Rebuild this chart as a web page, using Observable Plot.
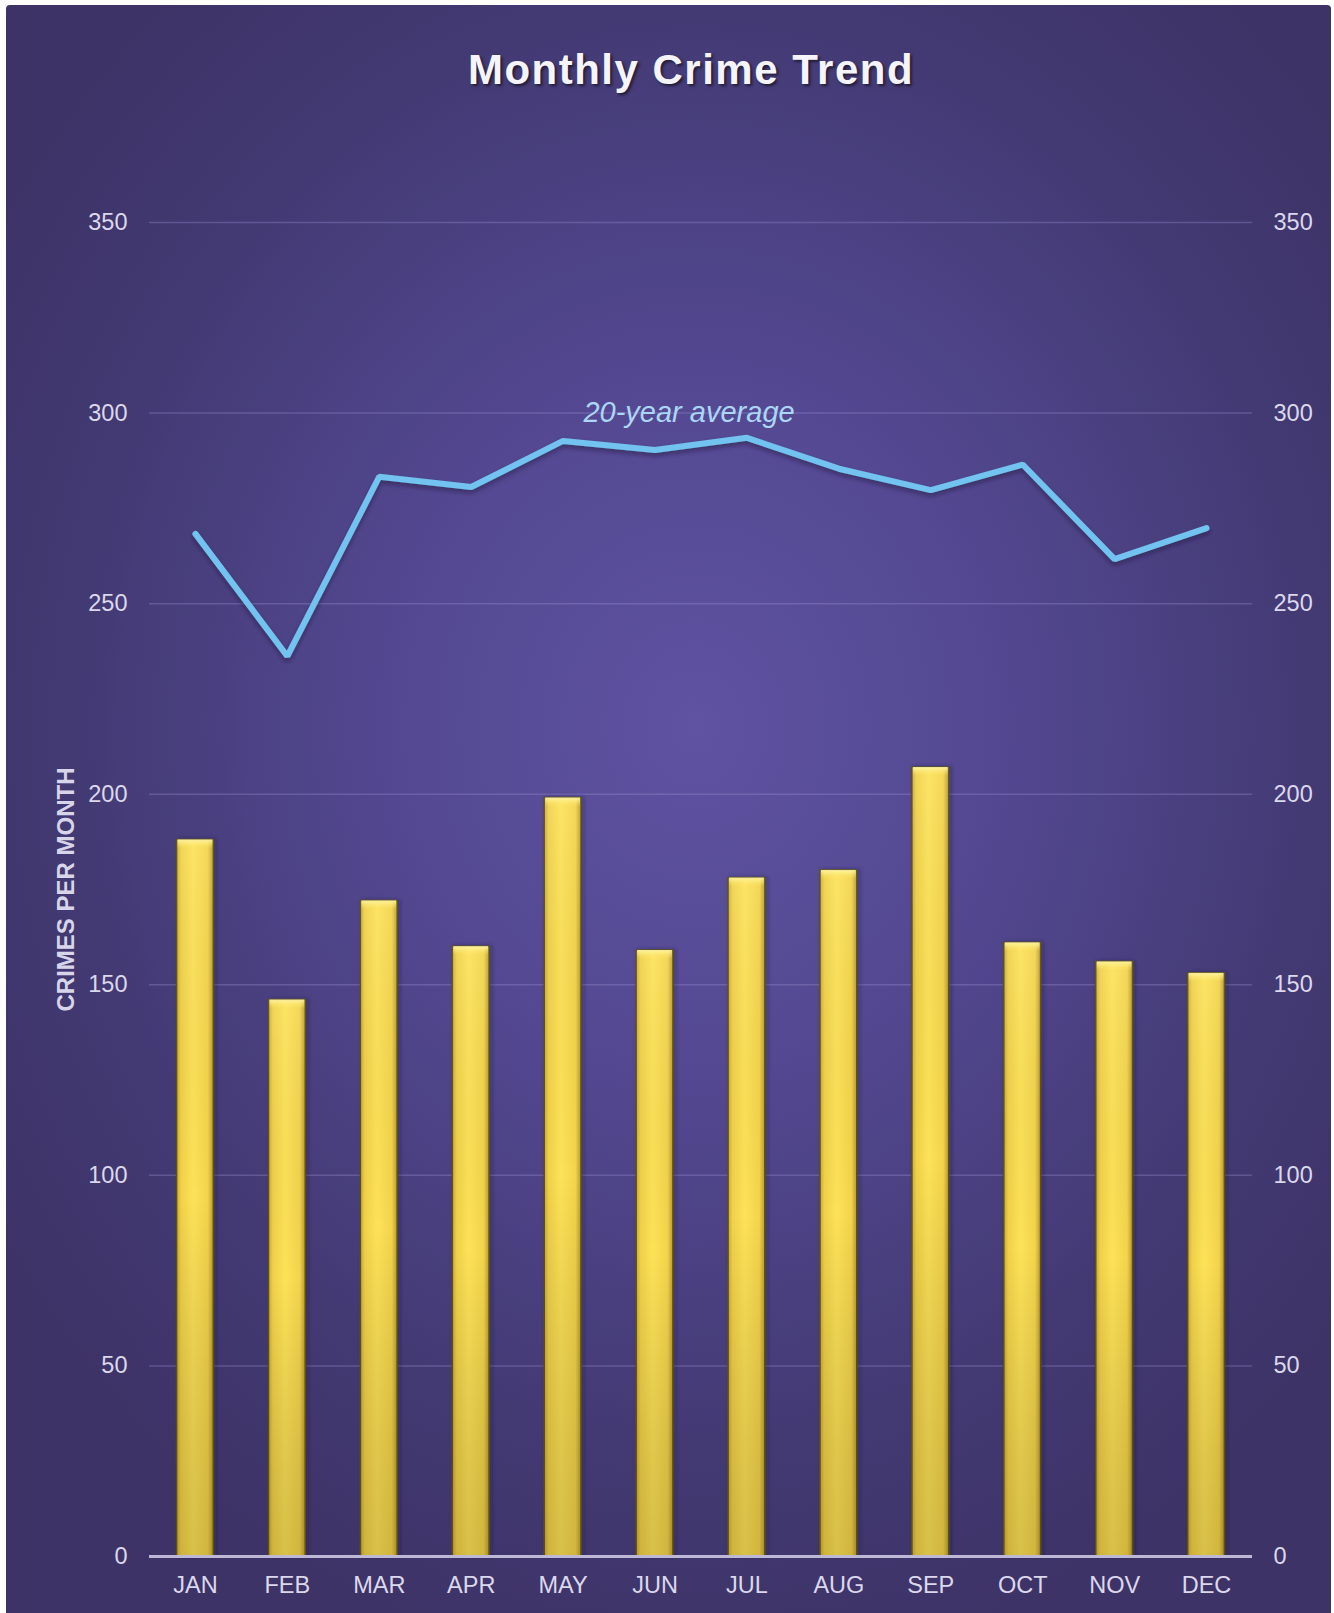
<!DOCTYPE html>
<html>
<head>
<meta charset="utf-8">
<script src="https://cdn.jsdelivr.net/npm/d3@7"></script>
<script src="https://cdn.jsdelivr.net/npm/@observablehq/plot@0.6"></script>
<style>
  html, body { margin: 0; padding: 0; background: #ffffff; }
  #wrap { position: relative; width: 1334px; height: 1613px; overflow: hidden; font-family: "Liberation Sans", Arial, sans-serif; }
  #bg { position: absolute; left: 6px; top: 5px; width: 1325px; height: 1640px; border-radius: 4px;
        background: radial-gradient(ellipse 62% 58% at 52% 44%, #5f53a2 0%, #52478f 40%, #433a74 75%, #3d3367 100%); }
  #title { position: absolute; left: 0; width: 1382px; top: 46px; text-align: center; font-size: 42px; font-weight: bold;
           letter-spacing: 1.5px; color: #f6f4fb; text-shadow: 2px 2px 3px rgba(0,0,0,0.55); }
  #chart { position: absolute; left: 0; top: 0; }
  #chart svg { overflow: visible; }
</style>
</head>
<body>
<div id="wrap">
  <div id="bg"></div>
  <div id="title">Monthly Crime Trend</div>
  <div id="chart"></div>
</div>
<script>
const months = ["JAN","FEB","MAR","APR","MAY","JUN","JUL","AUG","SEP","OCT","NOV","DEC"];
const crimes = [188, 146, 172, 160, 199, 159, 178, 180, 207, 161, 156, 153];
const average20 = [268.3, 236.2, 283.3, 280.6, 292.7, 290.3, 293.5, 285.4, 279.8, 286.5, 261.7, 269.8];
const yTicks = [0, 50, 100, 150, 200, 250, 300, 350];
const lineLabel = "20-year average";
const yTitle = "CRIMES PER MONTH";

const bars = months.map((m, i) => ({month: m, value: crimes[i]}));
const avg = months.map((m, i) => ({month: m, value: average20[i]}));

const tickColor = "#dcd8ec";

const chart = Plot.plot({
  width: 1334,
  height: 1613,
  marginLeft: 149,
  marginRight: 82,
  marginTop: 222,
  marginBottom: 57,
  style: {background: "transparent", fontFamily: "'Liberation Sans', Arial, sans-serif", overflow: "visible"},
  x: {domain: months, paddingInner: 0.6, paddingOuter: 0.3, round: false},
  y: {domain: [0, 350]},
  marks: [
    Plot.gridY(yTicks.filter(d => d > 0), {stroke: "#9a90d0", strokeOpacity: 0.35, strokeWidth: 1.5}),
    Plot.axisY(yTicks, {anchor: "left", tickSize: 0, tickPadding: 22, fontSize: 23.5, fill: tickColor, label: null}),
    Plot.axisY(yTicks, {anchor: "right", tickSize: 0, tickPadding: 21, fontSize: 23.5, fill: tickColor, label: null}),
    Plot.axisX({tickSize: 0, tickPadding: 20, fontSize: 23.5, fill: tickColor, label: null}),
    Plot.text([yTitle], {frameAnchor: "left", textAnchor: "middle", rotate: -90, dx: -83, fontSize: 24, fontWeight: "bold", fill: "#d8d4ea"}),
    // bar body
    Plot.barY(bars, {x: "month", y: "value", fill: "url(#barH)", stroke: "#5e5118", strokeWidth: 1.5, className: "bar-body"}),
    Plot.barY(bars, {x: "month", y: "value", fill: "url(#barV)"}),
    // top bevel cap
    Plot.barY(bars, {x: "month", y1: d => d.value - 2.3, y2: "value", fill: "url(#cap)", insetLeft: 1, insetRight: 1}),
    Plot.ruleY([0], {stroke: "#bcb8d6", strokeWidth: 3}),
    // average line
    Plot.line(avg, {x: "month", y: "value", stroke: "#72c3f0", strokeWidth: 6, strokeLinecap: "round", strokeLinejoin: "miter", className: "avg-line"}),
    Plot.text([lineLabel], {x: () => "JUN", y: () => 300, dx: 34, fontSize: 29, fontStyle: "italic", fill: "#acd6f6"})
  ]
});

// gradient definitions for bevelled bars
const ns = "http://www.w3.org/2000/svg";
const defs = document.createElementNS(ns, "defs");
defs.innerHTML = `
  <linearGradient id="barH" x1="0" x2="1" y1="0" y2="0">
    <stop offset="0" stop-color="#c9a930"/>
    <stop offset="0.12" stop-color="#f0d14a"/>
    <stop offset="0.45" stop-color="#fde257"/>
    <stop offset="0.85" stop-color="#f3d44c"/>
    <stop offset="1" stop-color="#b89a2a"/>
  </linearGradient>
  <linearGradient id="barV" x1="0" x2="0" y1="0" y2="1">
    <stop offset="0" stop-color="#ffffff" stop-opacity="0.08"/>
    <stop offset="0.5" stop-color="#000000" stop-opacity="0"/>
    <stop offset="1" stop-color="#5a4a10" stop-opacity="0.22"/>
  </linearGradient>
  <linearGradient id="cap" x1="0" x2="0" y1="0" y2="1">
    <stop offset="0" stop-color="#fff6a8" stop-opacity="0.95"/>
    <stop offset="1" stop-color="#ffe866" stop-opacity="0"/>
  </linearGradient>
  <filter id="lineShadow" x="-5%" y="-20%" width="110%" height="160%">
    <feDropShadow dx="0" dy="3" stdDeviation="2" flood-color="#1a1235" flood-opacity="0.5"/>
  </filter>
  <filter id="barShadow" x="-30%" y="-5%" width="160%" height="110%">
    <feDropShadow dx="2" dy="0" stdDeviation="2" flood-color="#1a1235" flood-opacity="0.35"/>
  </filter>`;
chart.insertBefore(defs, chart.firstChild);
const lineG = chart.querySelector(".avg-line");
if (lineG) lineG.setAttribute("filter", "url(#lineShadow)");
const barG = chart.querySelector(".bar-body");
if (barG) barG.setAttribute("filter", "url(#barShadow)");

document.getElementById("chart").appendChild(chart);
</script>
</body>
</html>
